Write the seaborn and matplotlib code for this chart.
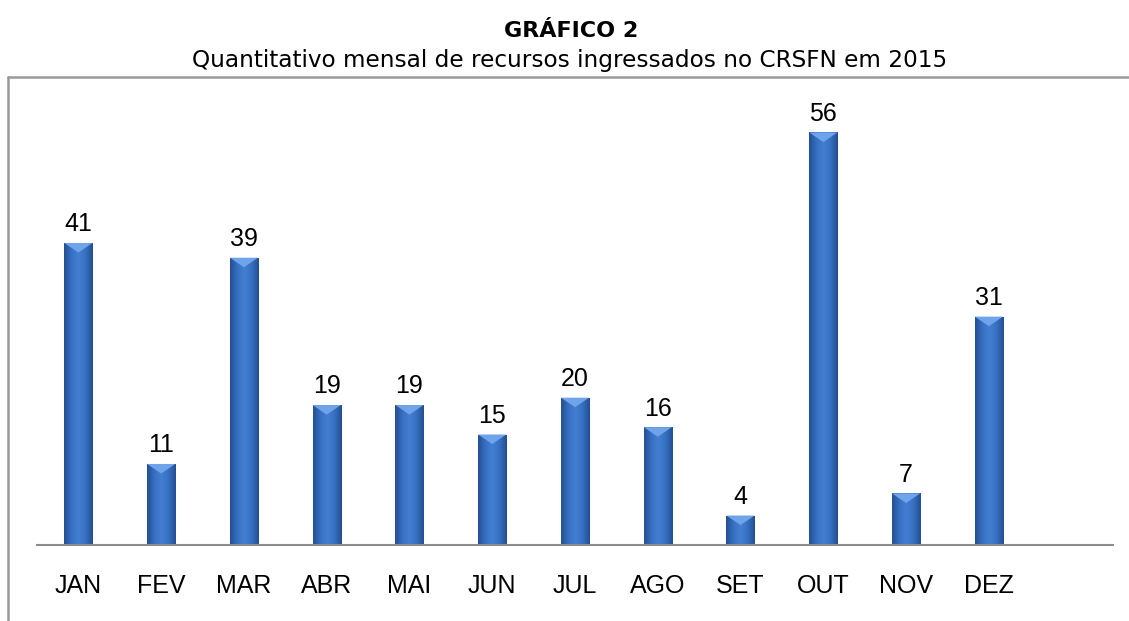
import numpy as np
import pandas as pd
import matplotlib
matplotlib.use("Agg")
import matplotlib.pyplot as plt
import seaborn as sns
from matplotlib.colors import LinearSegmentedColormap
from matplotlib.patches import Polygon
from matplotlib.lines import Line2D

months = ["JAN", "FEV", "MAR", "ABR", "MAI", "JUN", "JUL", "AGO", "SET", "OUT", "NOV", "DEZ"]
values = [41, 11, 39, 19, 19, 15, 20, 16, 4, 56, 7, 31]
title = "GRÁFICO 2"
subtitle = "Quantitativo mensal de recursos ingressados no CRSFN em 2015"

df = pd.DataFrame({"mes": months, "qtd": values})

sns.set_theme(style="white")
plt.rcParams["font.family"] = ["DejaVu Sans"]

W, H = 1129, 621
fig = plt.figure(figsize=(W / 100, H / 100), dpi=100)
ax = fig.add_axes([37 / W, (H - 545) / H, (1113 - 37) / W, (545 - 103) / H])

sns.barplot(data=df, x="mes", y="qtd", color="#3A70C2", width=0.34, ax=ax,
            saturation=1, edgecolor="none", zorder=2)
ax.set_xlim(-0.5, 12.5)
ax.set_ylim(0, 60)

cmap = LinearSegmentedColormap.from_list("bar", ["#254F90", "#3670C2", "#447FD2", "#3670C2", "#254F90"])
grad = np.linspace(0, 1, 64).reshape(1, -1)
for p, v in zip(ax.patches, values):
    x0, y0 = p.get_x(), p.get_y()
    w, h = p.get_width(), p.get_height()
    im = ax.imshow(grad, cmap=cmap, extent=(x0, x0 + w, y0, y0 + h), aspect="auto",
                   zorder=3, interpolation="bicubic")
    im.set_clip_path(p)
    bev = 1.3
    tri = Polygon([[x0, y0 + h], [x0 + w, y0 + h], [x0 + w * 0.5, y0 + h - bev]],
                  closed=True, facecolor="#6FA3EA", edgecolor="none", zorder=4)
    ax.add_patch(tri)
    ax.text(x0 + w / 2, y0 + h + 0.9, str(v), ha="center", va="bottom",
            fontsize=18, family="Liberation Sans", color="black", zorder=5)

ax.set_xlabel("")
ax.set_ylabel("")
ax.set_yticks([])
for s in ["top", "right", "left"]:
    ax.spines[s].set_visible(False)
ax.spines["bottom"].set_color("#8C8C8C")
ax.spines["bottom"].set_linewidth(1.5)
ax.spines["bottom"].set_zorder(6)
ax.tick_params(axis="x", length=0, pad=21, labelsize=18, labelcolor="black")
for t in ax.get_xticklabels():
    t.set_family("Liberation Sans")
ax.set_facecolor("none")

fig.text(571 / W, 1 - 37 / H, title, ha="center", va="baseline", fontsize=16,
         fontweight="bold", color="black")
fig.text(570 / W, 1 - 67 / H, subtitle, ha="center", va="baseline", fontsize=16.7,
         color="black")

fig.add_artist(Line2D([8 / W, 8 / W], [0, 1 - 77 / H], transform=fig.transFigure,
                      color="#999999", linewidth=1.8))
fig.add_artist(Line2D([8 / W, 1], [1 - 77 / H, 1 - 77 / H], transform=fig.transFigure,
                      color="#999999", linewidth=1.8))

fig.savefig("out.png", dpi=100, facecolor="white")
